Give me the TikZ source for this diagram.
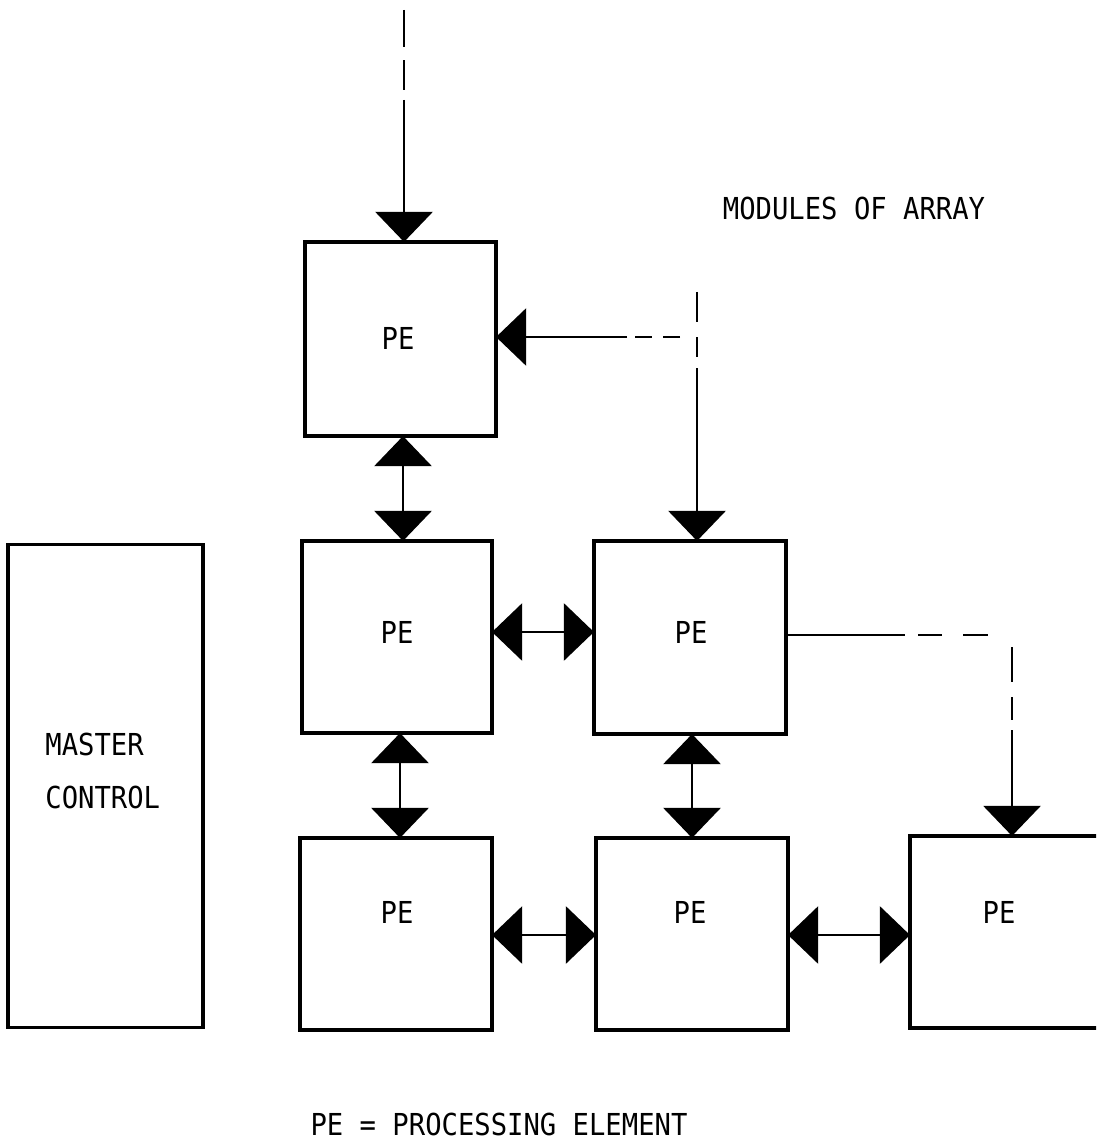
\documentclass[tikz,border=0pt]{standalone}
\usepackage{fontspec}
\newfontfamily\tw[FakeStretch=0.9]{DejaVu Sans Mono}
\usetikzlibrary{arrows.meta}
\tikzset{
  every node/.style={font=\tw\fontsize{8.6}{14.8}\selectfont, text=black},
  box/.style={draw, line width=0.9pt, inner sep=0pt, outer sep=0pt},
  conn/.style={line width=0.7pt},
  tri/.tip={Triangle[length=0.3cm, width=0.57cm]},
  arr/.style={conn, -tri},
  dbl/.style={conn, tri-tri},
}
\begin{document}
\begin{tikzpicture}[x=0.01cm, y=-0.01cm]
\useasboundingbox (0,0) rectangle (1096,1143);
\clip (0,0) rectangle (1096,1143);
% boxes
\node[box, minimum width=1.91cm, minimum height=1.94cm] (top) at (400.5,339) {};
\node[box, minimum width=1.90cm, minimum height=1.92cm] (ml) at (397,637) {};
\node[box, minimum width=1.92cm, minimum height=1.93cm] (mr) at (690,637.5) {};
\node[box, minimum width=1.92cm, minimum height=1.92cm] (bl) at (396,934) {};
\node[box, minimum width=1.92cm, minimum height=1.92cm] (bm) at (692,934) {};
\node[box, minimum width=1.90cm, minimum height=1.92cm] (br) at (1005,932) {};
\node[box, minimum width=1.95cm, minimum height=4.82cm] (mc) at (105.5,786) {};
% labels
\node (ttop) at (398,338.5) {PE};
\node (tml) at (397,632) {PE};
\node (tmr) at (691,632) {PE};
\node (tbl) at (397,912) {PE};
\node (tbm) at (690,912) {PE};
\node (tbr) at (999,912) {PE};
\node[anchor=west, align=left] (tmc) at (33,771) {MASTER\\CONTROL};
\node (tmod) at (854,208) {MODULES OF ARRAY};
\node (tkey) at (499,1124) {PE = PROCESSING ELEMENT};
% input into top PE
\coordinate (s0) at (404,10);
\coordinate (s1) at (404,100);
\draw[conn, dash pattern=on 0.37cm off 0.13cm on 0.30cm off 0.10cm] (s0) -- (s1);
\draw[arr] (s1) -- (top.north -| s1);
% input from right, dashed T
\coordinate (r0) at (697,292);
\coordinate (r1) at (697,368);
\draw[conn, dash pattern=on 0.30cm off 0.15cm on 0.20cm off 0.11cm] (r0) -- (r1);
\draw[arr] (r1) -- (mr.north -| r1);
\coordinate (h0) at (680,337);
\coordinate (h1) at (627,337);
\draw[conn, dash pattern=on 0.17cm off 0.11cm on 0.17cm off 0.08cm] (h0) -- (h1);
\draw[arr] (h1) -- (top.east |- h1);
% mid-right to bottom-right
\coordinate (g0) at (905,635);
\coordinate (g1) at (918,635);
\coordinate (g2) at (988,635);
\draw[conn] (mr.east |- g0) -- (g0);
\draw[conn, dash pattern=on 0.24cm off 0.21cm on 0.25cm off 1cm] (g1) -- (g2);
\coordinate (v0) at (1012,647);
\coordinate (v1) at (1012,720);
\coordinate (v2) at (1012,730);
\draw[conn, dash pattern=on 0.35cm off 0.15cm on 0.23cm off 1cm] (v0) -- (v1);
\draw[arr] (v2) -- (br.north -| v2);
% double arrows
\coordinate (xa) at (403,0);
\coordinate (xb) at (400,0);
\coordinate (xc) at (692,0);
\coordinate (ya) at (0,632);
\coordinate (yb) at (0,935);
\draw[dbl] (top.south -| xa) -- (ml.north -| xa);
\draw[dbl] (ml.south -| xb) -- (bl.north -| xb);
\draw[dbl] (mr.south -| xc) -- (bm.north -| xc);
\draw[dbl] (ml.east |- ya) -- (mr.west |- ya);
\draw[dbl] (bl.east |- yb) -- (bm.west |- yb);
\draw[dbl] (bm.east |- yb) -- (br.west |- yb);
\end{tikzpicture}
\end{document}
